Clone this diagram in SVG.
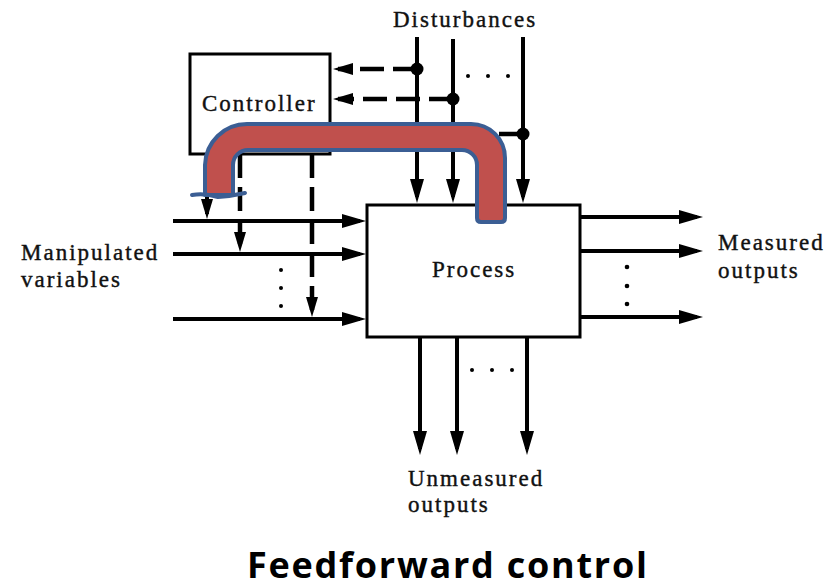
<svg xmlns="http://www.w3.org/2000/svg" width="838" height="588" viewBox="0 0 838 588">
<defs>
<style>
.lbl{font-family:"Liberation Serif","Times New Roman",serif;font-size:23px;letter-spacing:2px;fill:#111;stroke:#111;stroke-width:0.4}
.box{fill:#fff;stroke:#000;stroke-width:3}
.ln{stroke:#000;stroke-width:4;fill:none}
.dash{stroke:#000;stroke-width:4.5;fill:none;stroke-dasharray:24 9}
.dot{fill:#000}
</style>
<marker id="ah" markerUnits="userSpaceOnUse" markerWidth="26" markerHeight="16" refX="18" refY="7" orient="auto">
<path d="M0,0 L24,7 L0,14 Z" fill="#000"/>
</marker>
<marker id="ahs" markerUnits="userSpaceOnUse" markerWidth="22" markerHeight="14" refX="15" refY="6" orient="auto">
<path d="M0,0 L20,6 L0,12 Z" fill="#000"/>
</marker>
</defs>
<rect width="838" height="588" fill="#fff"/>

<g id="controller">
<rect class="box" x="190" y="54" width="140" height="100" stroke-width="2.5"/>
<text class="lbl" x="202" y="111">Controller</text>
</g>

<g id="process">
<rect class="box" x="367" y="205" width="213" height="132"/>
<text class="lbl" x="432" y="277">Process</text>
</g>

<g id="labels">
<text class="lbl" x="393" y="27">Disturbances</text>
<text class="lbl" x="21" y="260">Manipulated</text>
<text class="lbl" x="21" y="287">variables</text>
<text class="lbl" x="718" y="250">Measured</text>
<text class="lbl" x="718" y="278">outputs</text>
<text class="lbl" x="408" y="486">Unmeasured</text>
<text class="lbl" x="408" y="512">outputs</text>
</g>

<g id="connectors">
<!-- disturbances -->
<line class="ln" x1="417" y1="37" x2="417" y2="197" marker-end="url(#ah)"/>
<line class="ln" x1="453" y1="39" x2="453" y2="197" marker-end="url(#ah)"/>
<line class="ln" x1="523" y1="37" x2="523" y2="197" marker-end="url(#ah)"/>
<circle class="dot" cx="417" cy="69" r="6.5"/>
<circle class="dot" cx="453" cy="99" r="6.5"/>
<circle class="dot" cx="523" cy="134" r="6.5"/>
<line class="dash" x1="417" y1="69" x2="338" y2="69" marker-end="url(#ahs)"/>
<line class="dash" x1="453" y1="99" x2="338" y2="99" marker-end="url(#ahs)"/>
<line class="dash" x1="523" y1="134" x2="338" y2="134" marker-end="url(#ahs)"/>
<circle class="dot" cx="468" cy="76" r="2"/>
<circle class="dot" cx="488" cy="76" r="2"/>
<circle class="dot" cx="508" cy="76" r="2"/>
<!-- controller outputs -->
<line class="ln" x1="207" y1="154" x2="207" y2="214" stroke-width="3.5" marker-end="url(#ahs)"/>
<line class="dash" x1="240" y1="154" x2="240" y2="247" marker-end="url(#ahs)"/>
<line class="dash" x1="312" y1="154" x2="312" y2="312" marker-end="url(#ahs)"/>
<!-- manipulated -->
<line class="ln" x1="173" y1="221" x2="360" y2="221" marker-end="url(#ah)"/>
<line class="ln" x1="173" y1="254" x2="360" y2="254" marker-end="url(#ah)"/>
<line class="ln" x1="173" y1="319" x2="360" y2="319" marker-end="url(#ah)"/>
<circle class="dot" cx="281" cy="270" r="2"/>
<circle class="dot" cx="281" cy="288" r="2"/>
<circle class="dot" cx="281" cy="306" r="2"/>
<!-- measured outputs -->
<line class="ln" x1="580" y1="217" x2="697" y2="217" marker-end="url(#ah)"/>
<line class="ln" x1="580" y1="251" x2="697" y2="251" marker-end="url(#ah)"/>
<line class="ln" x1="580" y1="317" x2="697" y2="317" marker-end="url(#ah)"/>
<circle class="dot" cx="627" cy="267" r="2.3"/>
<circle class="dot" cx="627" cy="286" r="2.3"/>
<circle class="dot" cx="627" cy="304" r="2.3"/>
<!-- unmeasured outputs -->
<line class="ln" x1="420" y1="337" x2="420" y2="449" marker-end="url(#ah)"/>
<line class="ln" x1="457" y1="337" x2="457" y2="449" marker-end="url(#ah)"/>
<line class="ln" x1="527" y1="337" x2="527" y2="449" marker-end="url(#ah)"/>
<circle class="dot" cx="472" cy="370" r="2"/>
<circle class="dot" cx="492" cy="370" r="2"/>
<circle class="dot" cx="512" cy="370" r="2"/>
</g>

<g id="feedforward-band">
<path d="M205 195 L205 165 A42 42 0 0 1 247 124 L471 124 A34 34 0 0 1 505 158 L505 218 Q505 222 501 222 L481 222 Q477 222 477 218 L477 165 A15 15 0 0 0 462 150 L248 150 A15 15 0 0 0 233 165 L233 195 Z" fill="#C0504D" stroke="#3B5E94" stroke-width="4" stroke-linejoin="round"/>
<path d="M192 195 Q205 193 218 197 Q232 196 245 193" fill="none" stroke="#3B5E94" stroke-width="4" stroke-linecap="round"/>
</g>

<g id="title">
<text x="247" y="578" font-family="'Open Sans','Liberation Sans',sans-serif" font-weight="bold" font-size="36" textLength="400" lengthAdjust="spacing" fill="#000">Feedforward control</text>
</g>
</svg>
